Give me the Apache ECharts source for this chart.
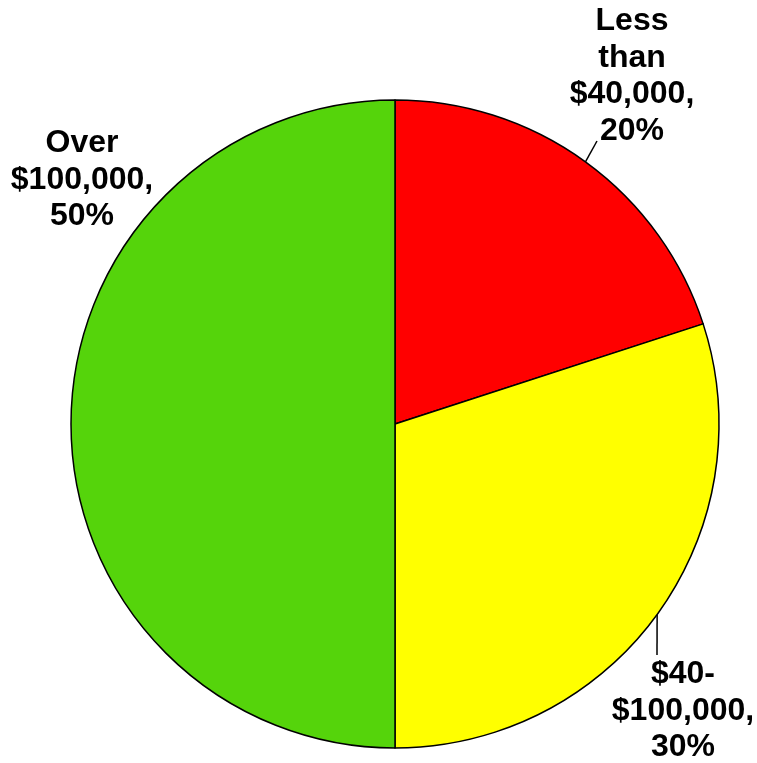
<!DOCTYPE html>
<html>
<head>
<meta charset="utf-8">
<script src="https://cdn.jsdelivr.net/npm/echarts@6/dist/echarts.min.js"></script>
<style>
  html, body { margin: 0; padding: 0; background: #fff; }
  #chart { width: 757px; height: 763px; }
</style>
</head>
<body>
<div id="chart"></div>
<script>
// Income brackets and their shares
const categories = ['Less\nthan\n$40,000', '$40-\n$100,000', 'Over\n$100,000'];
const shares = [20, 30, 50];
const colors = ['#FF0000', '#FFFF00', '#55D40B'];

// Label anchors (centre of each text block) and leader end points
const labelCenters = [[632, 76], [683, 711], [82, 180]];
const leaderEnds = [[597, 141], [657, 655], null];

const chart = echarts.init(document.getElementById('chart'), null, { renderer: 'canvas' });

chart.setOption({
  animation: false,
  series: [{
    type: 'pie',
    center: [395, 424],
    radius: 324,
    startAngle: 90,
    clockwise: true,
    data: categories.map((name, i) => ({
      name: name,
      value: shares[i],
      itemStyle: { color: colors[i] },
      labelLine: { show: leaderEnds[i] !== null }
    })),
    itemStyle: { borderColor: '#000', borderWidth: 1.5 },
    label: {
      show: true,
      position: 'outside',
      alignTo: 'none',
      overflow: 'none',
      formatter: p => p.name + ',\n' + p.value + '%',
      fontFamily: 'Liberation Sans, Arial, sans-serif',
      fontWeight: 'bold',
      fontSize: 32,
      lineHeight: 36.5,
      color: '#000',
      align: 'center'
    },
    labelLine: {
      show: true,
      length: 20,
      length2: 0,
      lineStyle: { color: '#000', width: 1.5 }
    },
    emphasis: { disabled: true },
    labelLayout: function (params) {
      const i = params.dataIndex;
      const c = labelCenters[i];
      const out = {
        x: c[0],
        y: c[1],
        align: 'center',
        verticalAlign: 'middle'
      };
      if (leaderEnds[i] && params.labelLinePoints) {
        out.labelLinePoints = [params.labelLinePoints[0], leaderEnds[i]];
      }
      return out;
    }
  }]
});
</script>
</body>
</html>
